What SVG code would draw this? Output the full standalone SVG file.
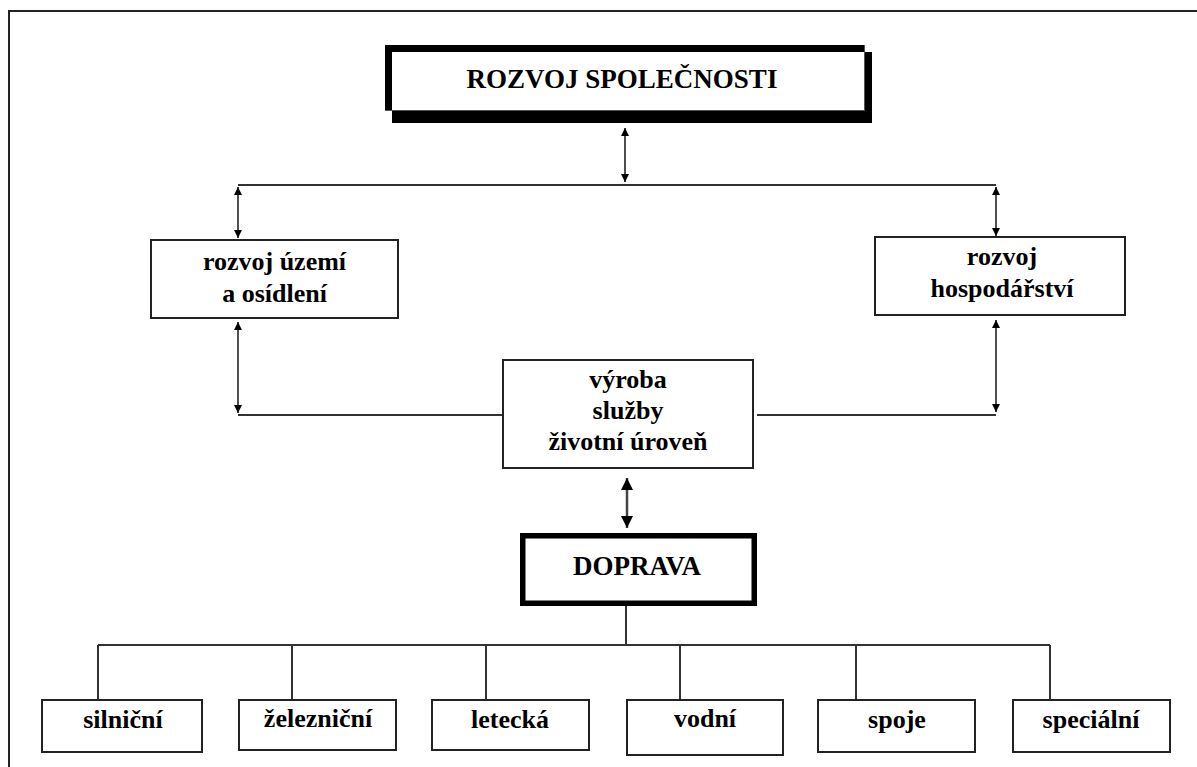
<svg xmlns="http://www.w3.org/2000/svg" width="1197" height="767" viewBox="0 0 1197 767">
<style>
.t{font-family:"Liberation Serif","Times New Roman",serif;font-weight:bold;fill:#000;text-anchor:middle}
.s{font-size:26px}
.b{font-size:27px}
.box{fill:#fff;stroke:#222;stroke-width:2}
.ln{fill:none;stroke:#333;stroke-width:2}
.ar{fill:none;stroke:#222;stroke-width:1.6}
</style>
<defs>
<marker id="ah" viewBox="0 0 10 10" refX="10" refY="5" markerWidth="8" markerHeight="8" markerUnits="userSpaceOnUse" orient="auto-start-reverse"><path d="M0,0 L10,5 L0,10 z" fill="#000"/></marker>
<marker id="ahb" viewBox="0 0 10 10" refX="10" refY="5" markerWidth="12" markerHeight="13" markerUnits="userSpaceOnUse" orient="auto-start-reverse"><path d="M0,0 L10,5 L0,10 z" fill="#000"/></marker>
</defs>
<rect width="1197" height="767" fill="#fff"/>
<path d="M9,767 V11 H1197" fill="none" stroke="#222" stroke-width="2"/>

<g id="connectors">
<line class="ar" x1="625" y1="128" x2="625" y2="182" marker-start="url(#ah)" marker-end="url(#ah)"/>
<path class="ln" d="M238,185 H996"/>
<line class="ar" x1="238" y1="187" x2="238" y2="238" marker-start="url(#ah)" marker-end="url(#ah)"/>
<line class="ar" x1="996" y1="187" x2="996" y2="236" marker-start="url(#ah)" marker-end="url(#ah)"/>
<line class="ar" x1="238" y1="322" x2="238" y2="413" marker-start="url(#ah)" marker-end="url(#ah)"/>
<path class="ln" d="M238,415 H503"/>
<line class="ar" x1="996" y1="320" x2="996" y2="412" marker-start="url(#ah)" marker-end="url(#ah)"/>
<path class="ln" d="M757,415 H996"/>
<line x1="627" y1="478" x2="627" y2="528" stroke="#444" stroke-width="2.5" marker-start="url(#ahb)" marker-end="url(#ahb)"/>
<path class="ln" d="M626,606 V645 M98,645 H1050 M98,645 V700 M292,645 V700 M486,645 V700 M680,645 V700 M856,645 V700 M1050,645 V700"/>
</g>

<g id="rozvoj-spolecnosti">
<rect x="392" y="52" width="480" height="71" fill="#000"/>
<rect x="385" y="45" width="480" height="66" fill="#fff"/>
<rect x="385" y="45" width="480" height="7" fill="#000"/>
<rect x="385" y="45" width="7" height="66" fill="#000"/>
<path d="M385,110.5 H865 M864.5,45 V111" stroke="#555" stroke-width="1"/>
<text class="t b" x="622" y="88">ROZVOJ SPOLEČNOSTI</text>
</g>

<g id="rozvoj-uzemi">
<rect class="box" x="151" y="240" width="247" height="78"/>
<text class="t s" x="274.5" y="270">rozvoj území</text>
<text class="t s" x="274.5" y="302">a osídlení</text>
</g>

<g id="rozvoj-hospodarstvi">
<rect class="box" x="875" y="237" width="250" height="78"/>
<text class="t s" x="1002" y="265">rozvoj</text>
<text class="t s" x="1002" y="297">hospodářství</text>
</g>

<g id="vyroba">
<rect class="box" x="503" y="360" width="250" height="108"/>
<text class="t s" x="628" y="388">výroba</text>
<text class="t s" x="628" y="419">služby</text>
<text class="t s" x="628" y="450">životní úroveň</text>
</g>

<g id="doprava">
<rect x="522.75" y="535.75" width="231.5" height="67.5" fill="#fff" stroke="#000" stroke-width="5.5"/>
<text class="t b" x="637" y="575">DOPRAVA</text>
</g>

<g id="silnicni"><rect class="box" x="42" y="700" width="160" height="52"/><text class="t s" x="123" y="728">silniční</text></g>
<g id="zeleznicni"><rect class="box" x="239" y="700" width="157" height="50"/><text class="t s" x="318" y="727">železniční</text></g>
<g id="letecka"><rect class="box" x="432" y="700" width="157" height="50"/><text class="t s" x="510" y="728">letecká</text></g>
<g id="vodni"><rect class="box" x="627" y="700" width="156" height="55"/><text class="t s" x="705" y="727">vodní</text></g>
<g id="spoje"><rect class="box" x="818" y="700" width="157" height="52"/><text class="t s" x="897" y="728">spoje</text></g>
<g id="specialni"><rect class="box" x="1013" y="700" width="157" height="52"/><text class="t s" x="1091" y="728">speciální</text></g>
</svg>
